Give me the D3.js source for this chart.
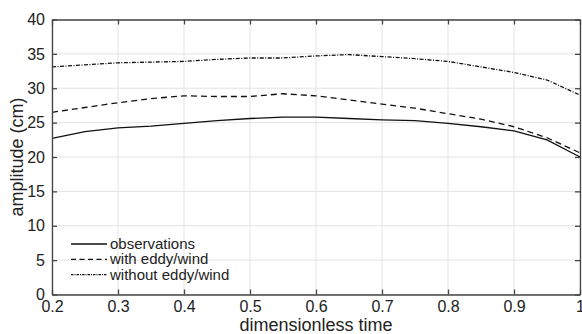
<!DOCTYPE html>
<html><head><meta charset="utf-8">
<script src="https://cdn.jsdelivr.net/npm/d3@7"></script>
<style>body{margin:0;background:#fff}svg{display:block;font-family:"Liberation Sans",Arial,sans-serif}</style>
</head><body><svg id="c" width="582" height="334"></svg>
<script>
const times = [0.2,0.25,0.3,0.35,0.4,0.45,0.5,0.55,0.6,0.65,0.7,0.75,0.8,0.85,0.9,0.95,1.0];
const observations = [22.7,23.7,24.25,24.5,24.9,25.3,25.6,25.8,25.8,25.6,25.4,25.3,24.9,24.4,23.8,22.5,20.0];
const withEddy = [26.5,27.2,27.9,28.5,28.9,28.8,28.8,29.2,28.9,28.3,27.7,27.1,26.3,25.5,24.4,22.8,20.6];
const withoutEddy = [33.1,33.4,33.7,33.8,33.9,34.2,34.4,34.4,34.7,34.9,34.6,34.3,33.9,33.1,32.3,31.2,29.0];
const xTicks = [0.2,0.3,0.4,0.5,0.6,0.7,0.8,0.9,1];
const yTicks = [0,5,10,15,20,25,30,35,40];
const seriesNames = ["observations","with eddy/wind","without eddy/wind"];

const svg = d3.select("#c");
const L=52,R=580,T=19.5,B=294.5;
const x = d3.scaleLinear().domain([0.2,1]).range([L,R]);
const y = d3.scaleLinear().domain([0,40]).range([B,T]);

// grid
svg.append("g").selectAll("line").data(xTicks).join("line")
  .attr("x1",d=>x(d)).attr("x2",d=>x(d)).attr("y1",T).attr("y2",B)
  .attr("stroke","#e3e3e3").attr("stroke-width",1);
svg.append("g").selectAll("line").data(yTicks).join("line")
  .attr("y1",d=>y(d)).attr("y2",d=>y(d)).attr("x1",L).attr("x2",R)
  .attr("stroke","#e3e3e3").attr("stroke-width",1);

const styles = [null,"6,4","4,1.5,1,1.5"];
const data = [observations, withEddy, withoutEddy];
const line = d3.line().x((d,i)=>x(times[i])).y(d=>y(d));
data.forEach((s,k)=>{
  svg.append("path").datum(s).attr("d",line).attr("fill","none")
    .attr("stroke","#111").attr("stroke-width",1.3)
    .attr("stroke-dasharray",styles[k]);
});

// axes
const ax = svg.append("g").attr("transform",`translate(0,${B})`)
  .call(d3.axisBottom(x).tickValues(xTicks).tickFormat(d=>d===1?"1":d3.format(".1f")(d)).tickSizeInner(-5).tickSizeOuter(0).tickPadding(6));
const ay = svg.append("g").attr("transform",`translate(${L},0)`)
  .call(d3.axisLeft(y).tickValues(yTicks).tickSizeInner(-5).tickSizeOuter(0).tickPadding(7));
const axT = svg.append("g").attr("transform",`translate(0,${T})`)
  .call(d3.axisTop(x).tickValues(xTicks).tickFormat("").tickSizeInner(-5).tickSizeOuter(0));
const ayR = svg.append("g").attr("transform",`translate(${R},0)`)
  .call(d3.axisRight(y).tickValues(yTicks).tickFormat("").tickSizeInner(-5).tickSizeOuter(0));
[ax,ay,axT,ayR].forEach(g=>{
  g.selectAll("path").attr("stroke","#444").attr("stroke-width",1.3);
  g.selectAll("line").attr("stroke","#444").attr("stroke-width",1.3);
  g.selectAll("text").attr("fill","#222").style("font-size","16px").style("font-family","'Liberation Sans',Arial,sans-serif");
});

// titles
svg.append("text").attr("x",(L+R)/2).attr("y",331).attr("text-anchor","middle")
  .style("font-size","18px").attr("fill","#222").text("dimensionless time");
svg.append("text").attr("transform",`translate(23,${(T+B)/2}) rotate(-90)`).attr("text-anchor","middle")
  .style("font-size","18px").attr("fill","#222").text("amplitude (cm)");

// legend
const lg = svg.append("g");
seriesNames.forEach((n,k)=>{
  const yy = 244 + k*15.3;
  lg.append("line").attr("x1",71).attr("x2",107).attr("y1",yy).attr("y2",yy)
    .attr("stroke","#111").attr("stroke-width",1.3).attr("stroke-dasharray",k===0?null:(k===1?"5,3.5":"2.5,1,1,1"));
  lg.append("text").attr("x",110).attr("y",yy+5).style("font-size","15px").attr("fill","#222").text(n);
});
</script></body></html>
